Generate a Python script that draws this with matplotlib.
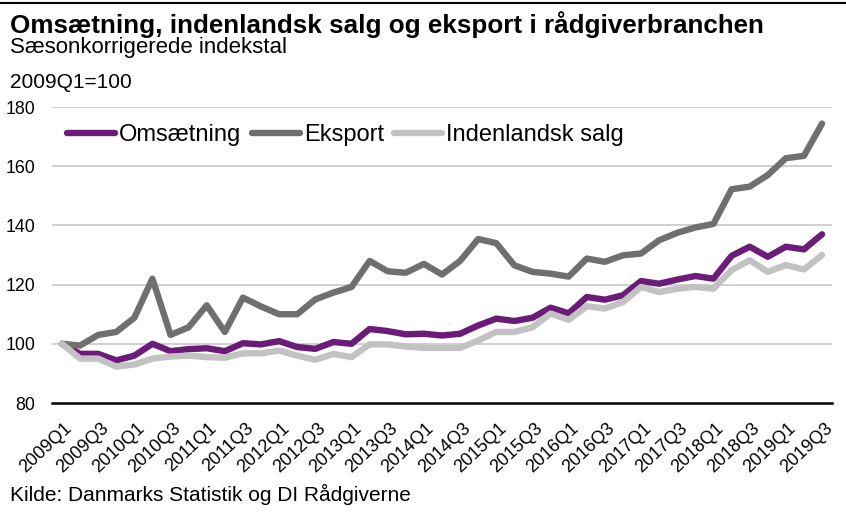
import matplotlib
matplotlib.use("Agg")
import matplotlib.pyplot as plt
from matplotlib.lines import Line2D
from matplotlib.transforms import ScaledTranslation

plt.rcParams['font.family'] = ['Liberation Sans', 'DejaVu Sans']

years = list(range(2009, 2020))
quarters = [f"{y}Q{q}" for y in years for q in range(1, 5)][:43]

omsaetning = [100, 96.6, 96.6, 94.4, 96, 100, 97.5, 98.2, 98.5, 97.5, 100.2, 99.8, 100.9, 98.9, 98.3,
              100.6, 100, 105, 104.3, 103.2, 103.4, 102.8, 103.4, 106.2, 108.5, 107.7, 108.8, 112.2, 110.3,
              115.8, 114.9, 116.4, 121.2, 120.3, 121.7, 122.9, 122, 129.7, 132.8, 129.4, 132.8, 131.9, 137]
eksport = [100, 99.4, 103, 104, 108.8, 122, 103, 105.6, 113, 104, 115.6, 112.6, 110, 110, 115,
           117.3, 119.2, 128, 124.5, 124, 127, 123.4, 128, 135.4, 134, 126.5, 124.3, 123.7, 122.7,
           128.8, 127.7, 129.9, 130.5, 135, 137.5, 139.3, 140.5, 152.2, 153.1, 157, 162.7, 163.5, 174.4]
indenlandsk = [100, 95, 95, 92.3, 93, 95, 95.7, 96, 95.5, 95.3, 96.8, 96.8, 97.7, 96, 94.6,
               96.6, 95.5, 99.8, 99.8, 99.1, 98.6, 98.6, 98.6, 101.1, 104, 104, 105.6, 110.2, 108.1,
               112.7, 111.9, 114.1, 119.2, 117.5, 118.6, 119.2, 118.6, 124.9, 128.2, 124.3, 126.6, 125.1, 130]

series_names = ["Omsætning", "Eksport", "Indenlandsk salg"]
colors = ["#6B1C78", "#6F6F6F", "#C2C2C2"]
yticks = [80, 100, 120, 140, 160, 180]

W, H = 846, 512
fig = plt.figure(figsize=(W / 100, H / 100), dpi=100)
ax = fig.add_axes([52 / W, 1 - 403 / H, 780 / W, 296 / H])

x = list(range(len(quarters)))
for vals, name, c in zip([omsaetning, eksport, indenlandsk], series_names, colors):
    ax.plot(x, vals, color=c, lw=4.6, label=name, solid_capstyle='round', solid_joinstyle='round', zorder=3)

ax.set_ylim(80, 180)
ax.set_xlim(-0.55, 42.55)
ax.set_yticks(yticks)
ax.set_yticklabels([str(v) for v in yticks], fontsize=12.8)
for v in yticks[1:]:
    ax.axhline(v, color="#CDCDCD", lw=1.3, zorder=1)
ax.axhline(80, color="black", lw=1.8, zorder=4, clip_on=False)

ax.set_xticks(x[::2])
ax.set_xticklabels(quarters[::2], rotation=43, ha='right', va='top', rotation_mode='anchor', fontsize=13)
ax.tick_params(axis='x', length=0, pad=12)
ax.tick_params(axis='y', length=0, pad=12.2)
shift = ScaledTranslation(2 / 100, 0, fig.dpi_scale_trans)
for lab in ax.get_xticklabels():
    lab.set_transform(lab.get_transform() + shift)
for s in ax.spines.values():
    s.set_visible(False)

leg = ax.legend(loc='center left', bbox_to_anchor=(0.0192, 0.905), ncol=3, frameon=False,
                fontsize=17, handlelength=2.03, handletextpad=0.17, columnspacing=0.45,
                borderpad=0, borderaxespad=0)

fig.add_artist(Line2D([0, 1], [1 - 3 / H, 1 - 3 / H], color="black", lw=1.5))
fig.text(10 / W, 1 - 33 / H, "Omsætning, indenlandsk salg og eksport i rådgiverbranchen",
         fontsize=18.7, fontweight='bold', va='baseline', ha='left')
fig.text(10 / W, 1 - 53 / H, "Sæsonkorrigerede indekstal", fontsize=16, va='baseline', ha='left')
fig.text(10 / W, 1 - 88 / H, "2009Q1=100", fontsize=15, va='baseline', ha='left')
fig.text(10 / W, 1 - 501 / H, "Kilde: Danmarks Statistik og DI Rådgiverne", fontsize=15,
         va='baseline', ha='left')

fig.savefig("out.png", dpi=100)
